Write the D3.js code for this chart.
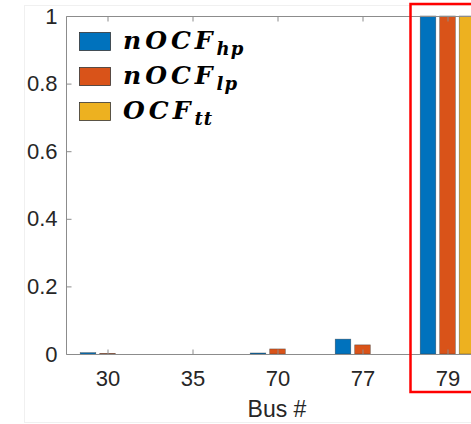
<!DOCTYPE html>
<html>
<head>
<meta charset="utf-8">
<script src="https://cdn.jsdelivr.net/npm/d3@7"></script>
<style>
  body { margin: 0; background: #fff; }
  svg { display: block; }
</style>
</head>
<body>
<div id="chart"></div>
<script>
// chart values
const buses = ["30", "35", "70", "77", "79"];
const seriesNames = ["nOCF_hp", "nOCF_lp", "OCF_tt"];
const nOCFhp = [0.004, 0, 0.003, 0.044, 1];
const nOCFlp = [0.002, 0, 0.015, 0.027, 1];
const OCFtt = [0, 0, 0, 0, 1];
const yTicks = [0, 0.2, 0.4, 0.6, 0.8, 1];
const legendLabels = [
  { main: "nOCF", sub: "hp" },
  { main: "nOCF", sub: "lp" },
  { main: "OCF", sub: "tt" }
];
const colors = ["#0072BD", "#D95319", "#EDB120"];

const width = 471, height = 424;
const margin = { top: 16, left: 66, bottom: 354 };

const svg = d3.select("#chart").append("svg")
  .attr("width", width)
  .attr("height", height);

// faint figure border
svg.append("rect")
  .attr("x", 24.5).attr("y", 5.5)
  .attr("width", 460).attr("height", 417)
  .attr("fill", "none")
  .attr("stroke", "#f0f0f0");

let x = d3.scaleLinear()
  .domain([-0.5, 4.5])
  .range([65, 490]);

let xInner = d3.scaleBand()
  .domain(seriesNames)
  .range([-29.25, 29.25])
  .paddingInner(0.2)
  .paddingOuter(0.1);

let y = d3.scaleLinear()
  .domain([0, 1])
  .range([margin.bottom, margin.top]);

let tableData = buses.map((b, i) => ({
  bus: b, i: i,
  values: [nOCFhp[i], nOCFlp[i], OCFtt[i]]
}));

// bars
let groups = svg.selectAll(".grp").data(tableData).enter().append("g")
  .attr("class", "grp")
  .attr("transform", d => "translate(" + x(d.i) + ",0)");

groups.selectAll("rect")
  .data(d => d.values.map((v, k) => ({ key: seriesNames[k], value: v, k: k })))
  .enter().append("rect")
  .filter(d => d.value > 0)
  .attr("x", d => xInner(d.key))
  .attr("y", d => y(d.value))
  .attr("width", xInner.bandwidth())
  .attr("height", d => y(0) - y(d.value))
  .attr("fill", d => colors[d.k])
  .attr("stroke", "#333")
  .attr("stroke-opacity", 0.6)
  .attr("stroke-width", 0.6);

const axisColor = "#8c8c8c";
const textColor = "#262626";

// axis lines (box: left, bottom, top)
svg.append("path")
  .attr("d", `M${width + 5},${margin.top + 0.5}H${margin.left + 0.5}V${margin.bottom + 0.5}H${width + 5}`)
  .attr("fill", "none")
  .attr("stroke", axisColor)
  .attr("stroke-width", 1);

// x axis
let xAxis = d3.axisBottom(x)
  .tickValues(d3.range(buses.length))
  .tickFormat(i => buses[i])
  .tickSizeInner(-5)
  .tickSizeOuter(0)
  .tickPadding(16);

let gx = svg.append("g")
  .attr("transform", "translate(0," + (margin.bottom + 0.5) + ")")
  .call(xAxis);
gx.select(".domain").remove();
gx.selectAll("line").attr("stroke", axisColor);
gx.selectAll("text")
  .attr("fill", textColor)
  .style("font-family", "Liberation Sans, Arial, sans-serif")
  .style("font-size", "22px");

// top ticks
let xTop = d3.axisTop(x)
  .tickValues(d3.range(buses.length))
  .tickFormat("")
  .tickSizeInner(-5)
  .tickSizeOuter(0);
let gxt = svg.append("g")
  .attr("transform", "translate(0," + (margin.top + 0.5) + ")")
  .call(xTop);
gxt.select(".domain").remove();
gxt.selectAll("line").attr("stroke", axisColor);

// y axis
let yAxis = d3.axisLeft(y)
  .tickValues(yTicks)
  .tickFormat(d3.format("~g"))
  .tickSizeInner(-5)
  .tickSizeOuter(0)
  .tickPadding(9);

let gy = svg.append("g")
  .attr("transform", "translate(" + (margin.left + 0.5) + ",0)")
  .call(yAxis);
gy.select(".domain").remove();
gy.selectAll("line").attr("stroke", axisColor);
gy.selectAll("text")
  .attr("fill", textColor)
  .style("font-family", "Liberation Sans, Arial, sans-serif")
  .style("font-size", "22px");

// x label
svg.append("text")
  .attr("x", 277)
  .attr("y", 417)
  .attr("text-anchor", "middle")
  .attr("fill", textColor)
  .style("font-family", "Liberation Sans, Arial, sans-serif")
  .style("font-size", "23px")
  .text("Bus #");

// legend
let legend = svg.append("g").attr("transform", "translate(79,32)");
let items = legend.selectAll("g").data(legendLabels).enter().append("g")
  .attr("transform", (d, i) => "translate(0," + (i * 35) + ")");

items.append("rect")
  .attr("x", 0.5).attr("y", 0.5)
  .attr("width", 31).attr("height", 18)
  .attr("fill", (d, i) => colors[i])
  .attr("stroke", "#333")
  .attr("stroke-width", 0.8);

let lt = items.append("text")
  .attr("x", 44)
  .attr("y", 17)
  .attr("fill", "#000")
  .style("font-family", "DejaVu Serif, serif")
  .style("font-weight", "bold")
  .style("font-style", "italic")
  .style("font-size", "25px");
lt.append("tspan")
  .attr("letter-spacing", "4px")
  .text(d => d.main);
lt.append("tspan")
  .attr("dy", 6)
  .attr("letter-spacing", "1px")
  .style("font-size", "18px")
  .text(d => d.sub);

// highlight box
svg.append("rect")
  .attr("x", 410.5)
  .attr("y", 4)
  .attr("width", 80)
  .attr("height", 388)
  .attr("fill", "none")
  .attr("stroke", "#ff0000")
  .attr("stroke-width", 2.5);
</script>
</body>
</html>
